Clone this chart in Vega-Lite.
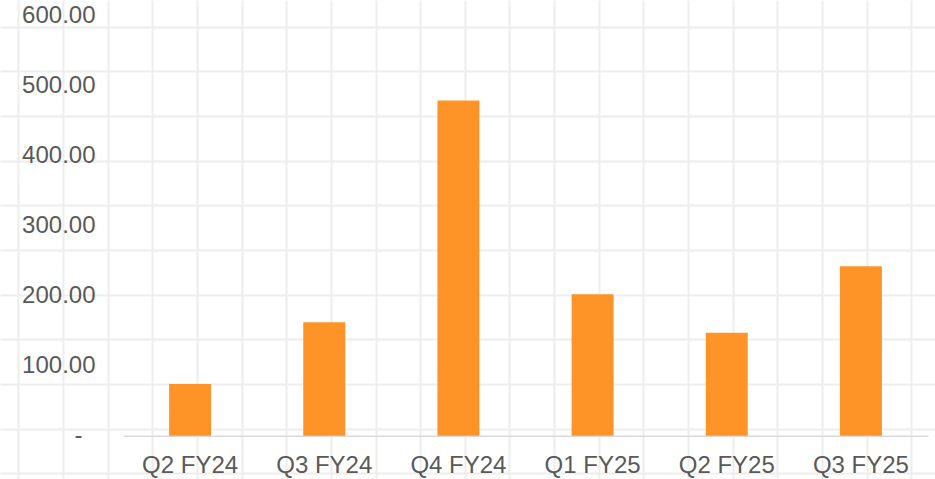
{
  "$schema": "https://vega.github.io/schema/vega-lite/v6.json",
  "width": 935,
  "height": 479,
  "autosize": {"type": "none"},
  "padding": 0,
  "background": "#FFFFFF",
  "config": {
    "view": {"stroke": null},
    "font": "Liberation Sans",
    "axis": {"labelFont": "Liberation Sans", "labelColor": "#595959", "labelFontSize": 24}
  },
  "data": {
    "values": [
      {"quarter": "Q2 FY24", "value": 74},
      {"quarter": "Q3 FY24", "value": 162},
      {"quarter": "Q4 FY24", "value": 479},
      {"quarter": "Q1 FY25", "value": 202},
      {"quarter": "Q2 FY25", "value": 147},
      {"quarter": "Q3 FY25", "value": 242}
    ]
  },
  "layer": [
    {
      "description": "Graph-paper backdrop drawn through axis grids of a helper scale pair",
      "mark": {"type": "point", "opacity": 0},
      "encoding": {
        "x": {
          "datum": 0,
          "type": "quantitative",
          "scale": {"domain": [-0.41, 20.531], "nice": false, "zero": false},
          "axis": {
            "orient": "top",
            "values": [0, 1, 2, 3, 4, 5, 6, 7, 8, 9, 10, 11, 12, 13, 14, 15, 16, 17, 18, 19, 20],
            "grid": true, "gridColor": "#EDEDED", "gridWidth": 2,
            "labels": false, "ticks": false, "domain": false, "title": null
          }
        },
        "y": {
          "datum": 0,
          "type": "quantitative",
          "scale": {"domain": [-0.598, 10.13], "range": [0, 479], "nice": false, "zero": false},
          "axis": {
            "orient": "right",
            "values": [0, 1, 2, 3, 4, 5, 6, 7, 8, 9, 10],
            "grid": true, "gridColor": "#EDEDED", "gridWidth": 2,
            "labels": false, "ticks": false, "domain": false, "title": null
          }
        }
      }
    },
    {
      "mark": {"type": "bar", "color": "#FE9428"},
      "encoding": {
        "x": {
          "field": "quarter",
          "type": "nominal",
          "sort": null,
          "scale": {"range": [123, 928], "paddingInner": 0.687, "paddingOuter": 0.3435},
          "axis": {
            "orient": "bottom",
            "offset": -43.3,
            "title": null,
            "labelAngle": 0,
            "labelPadding": 18,
            "ticks": false,
            "grid": false,
            "domainColor": "#D9D9D9",
            "domainWidth": 1.5
          }
        },
        "y": {
          "field": "value",
          "type": "quantitative",
          "scale": {"domain": [0, 600], "range": [435.7, 15.7], "nice": false},
          "axis": {
            "orient": "left",
            "offset": -123,
            "title": null,
            "values": [0, 100, 200, 300, 400, 500, 600],
            "labelExpr": "datum.value === 0 ? '-' : format(datum.value, '.2f')",
            "labelPadding": {"condition": {"test": "datum.value === 0", "value": 41}, "value": 28},
            "ticks": false,
            "domain": false,
            "grid": false
          }
        }
      }
    }
  ],
  "resolve": {
    "scale": {"x": "independent", "y": "independent"},
    "axis": {"x": "independent", "y": "independent"}
  }
}
